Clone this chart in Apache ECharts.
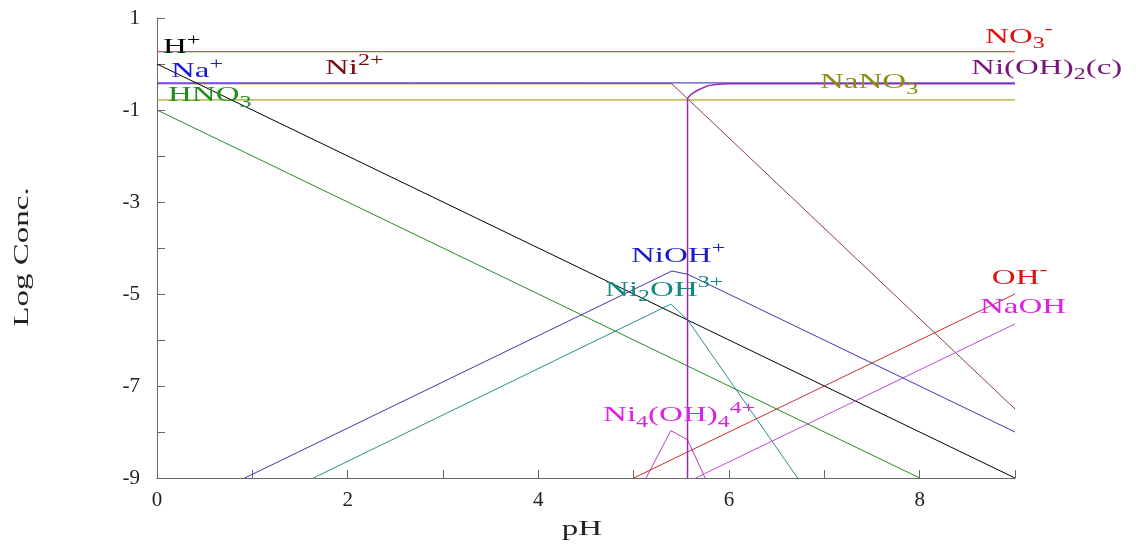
<!DOCTYPE html>
<html>
<head>
<meta charset="utf-8">
<script src="https://cdn.jsdelivr.net/npm/echarts@6/dist/echarts.min.js"></script>
<style>
  html, body { margin: 0; padding: 0; background: #ffffff; }
  #chart { width: 1136px; height: 544px; }
</style>
</head>
<body>
<div id="chart"></div>
<script>
// Log concentration of each species against pH, as [pH, log C] vertices
const hPlus = [[0, 0], [9, -9]];
const nitrate = [[0, 0.27], [9, 0.27]];
const sodiumIon = [[0, -0.41], [9, -0.41]];
const nickelIon = [[0, -0.43], [5.40, -0.43], [9, -7.5]];
const nitricAcid = [[0, -1], [8, -9]];
const sodiumNitrate = [[0, -0.78], [9, -0.78]];
const nickelHydroxideSolid = [[5.565, -9], [5.565, -0.75], [5.6, -0.66], [5.675, -0.565], [5.78, -0.47], [5.885, -0.44], [6.0, -0.43], [9, -0.43]];
const nickelMonohydroxo = [[0.92, -9], [5.40, -4.5], [5.565, -4.57], [9, -8.0]];
const dinickelHydroxo = [[1.64, -9], [5.39, -5.22], [5.565, -5.56], [6.72, -9]];
const tetranickelHydroxo = [[5.13, -9], [5.39, -7.97], [5.565, -8.17], [5.75, -9]];
const hydroxide = [[5, -9], [9, -5]];
const sodiumHydroxide = [[5.65, -9], [9, -5.65]];

const xTickLabels = [0, 2, 4, 6, 8];
const yTickLabels = [1, -1, -3, -5, -7, -9];

// Line series: name, vertices, stroke colour, stroke width
const speciesLines = [
  { name: 'NO3-', data: nitrate, color: '#e04848', width: 1.2 },
  { name: 'Na+', data: sodiumIon, color: '#5050d0', width: 1.2 },
  { name: 'Ni2+', data: nickelIon, color: '#8a4040', width: 1 },
  { name: 'NaNO3', data: sodiumNitrate, color: '#a8a830', width: 1.2 },
  { name: 'H+', data: hPlus, color: '#000000', width: 1 },
  { name: 'HNO3', data: nitricAcid, color: '#2a8a2a', width: 1 },
  { name: 'NiOH+', data: nickelMonohydroxo, color: '#3a3ab0', width: 1 },
  { name: 'Ni2OH3+', data: dinickelHydroxo, color: '#2a9090', width: 1 },
  { name: 'Ni4(OH)4 4+', data: tetranickelHydroxo, color: '#c038c0', width: 1 },
  { name: 'OH-', data: hydroxide, color: '#c83030', width: 1 },
  { name: 'NaOH', data: sodiumHydroxide, color: '#c048d8', width: 1 },
  { name: 'Ni(OH)2(c)', data: nickelHydroxideSolid, color: '#9a28b0', width: 1.5 }
];

// Species annotations: rich text, anchor (left edge, vertical middle) in [pH, log C]
const annotations = [
  { text: 'H{sup|+}', at: [0.063, 0.36], color: '#000000' },
  { text: 'Na{sup|+}', at: [0.147, -0.167], color: '#1a1acc' },
  { text: 'HNO{sub|3}', at: [0.115, -0.685], color: '#1f8f1f' },
  { text: 'Ni{sup|2+}', at: [1.762, -0.093], color: '#7a0a0a' },
  { text: 'NO{sub|3}{sup|-}', at: [8.686, 0.593], color: '#e01010' },
  { text: 'Ni(OH){sub|2}(c)', at: [8.539, -0.093], color: '#7a157a' },
  { text: 'NaNO{sub|3}', at: [6.955, -0.40], color: '#8c8c10' },
  { text: 'NiOH{sup|+}', at: [4.972, -4.174], color: '#1a1acc' },
  { text: 'Ni{sub|2}OH{sup|3+}', at: [4.700, -4.913], color: '#138a80' },
  { text: 'Ni{sub|4}(OH){sub|4}{sup|4+}', at: [4.679, -7.646], color: '#e020e0' },
  { text: 'OH{sup|-}', at: [8.757, -4.652], color: '#e01010' },
  { text: 'NaOH', at: [8.633, -5.293], color: '#e020e0' }
];

const serif = '"Liberation Serif", "Times New Roman", serif';
const axisColor = '#666666';
const textStretch = 1.5;

const chart = echarts.init(document.getElementById('chart'), null, { renderer: 'canvas' });

const option = {
  backgroundColor: '#ffffff',
  animation: false,
  grid: { left: 157, right: 121, top: 18, bottom: 66, containLabel: false },
  xAxis: {
    type: 'value',
    min: 0, max: 9, interval: 1,
    axisLine: { show: true, onZero: false, lineStyle: { color: axisColor, width: 1 } },
    axisTick: { show: true, inside: true, length: 8, lineStyle: { color: axisColor } },
    splitLine: { show: false },
    axisLabel: {
      margin: 12,
      color: '#222222',
      fontFamily: serif,
      fontSize: 21,
      formatter: v => (xTickLabels.includes(v) ? String(v) : '')
    }
  },
  yAxis: {
    type: 'value',
    min: -9, max: 1, interval: 1,
    axisLine: { show: true, onZero: false, lineStyle: { color: axisColor, width: 1 } },
    axisTick: { show: true, inside: true, length: 8, lineStyle: { color: axisColor } },
    splitLine: { show: false },
    axisLabel: {
      margin: 17,
      color: '#222222',
      fontFamily: serif,
      fontSize: 21,
      formatter: v => (yTickLabels.includes(v) ? String(v) : '')
    }
  },
  series: speciesLines.map(s => ({
    name: s.name,
    type: 'line',
    data: s.data,
    showSymbol: false,
    symbol: 'none',
    silent: true,
    clip: true,
    lineStyle: { color: s.color, width: s.width },
    itemStyle: { color: s.color }
  }))
};

chart.setOption(option);

function richFor(color) {
  return {
    sup: { fontSize: 16, fontFamily: serif, lineHeight: 16, verticalAlign: 'top', fill: color },
    sub: { fontSize: 16, fontFamily: serif, lineHeight: 16, verticalAlign: 'bottom', fill: color }
  };
}

const rect = chart.getModel().getComponent('grid').coordinateSystem.getRect();

const graphics = annotations.map(a => {
  const p = chart.convertToPixel({ gridIndex: 0 }, a.at);
  return {
    type: 'text',
    x: p[0],
    y: p[1],
    scaleX: textStretch,
    silent: true,
    z: 10,
    style: {
      text: a.text,
      fill: a.color,
      fontFamily: serif,
      fontSize: 22,
      lineHeight: 30,
      align: 'left',
      verticalAlign: 'middle',
      rich: richFor(a.color)
    }
  };
});

// Axis titles
graphics.push({
  type: 'text',
  x: rect.x + rect.width / 2 - 4,
  y: rect.y + rect.height + 51,
  scaleX: textStretch,
  silent: true,
  style: { text: 'pH', fill: '#222222', fontFamily: serif, fontSize: 22, align: 'center', verticalAlign: 'middle' }
});
graphics.push({
  type: 'text',
  x: 22,
  y: rect.y + rect.height / 2 + 9,
  rotation: Math.PI / 2,
  scaleX: textStretch,
  silent: true,
  style: { text: 'Log Conc.', fill: '#222222', fontFamily: serif, fontSize: 22, align: 'center', verticalAlign: 'middle' }
});

chart.setOption({ graphic: graphics });
</script>
</body>
</html>
